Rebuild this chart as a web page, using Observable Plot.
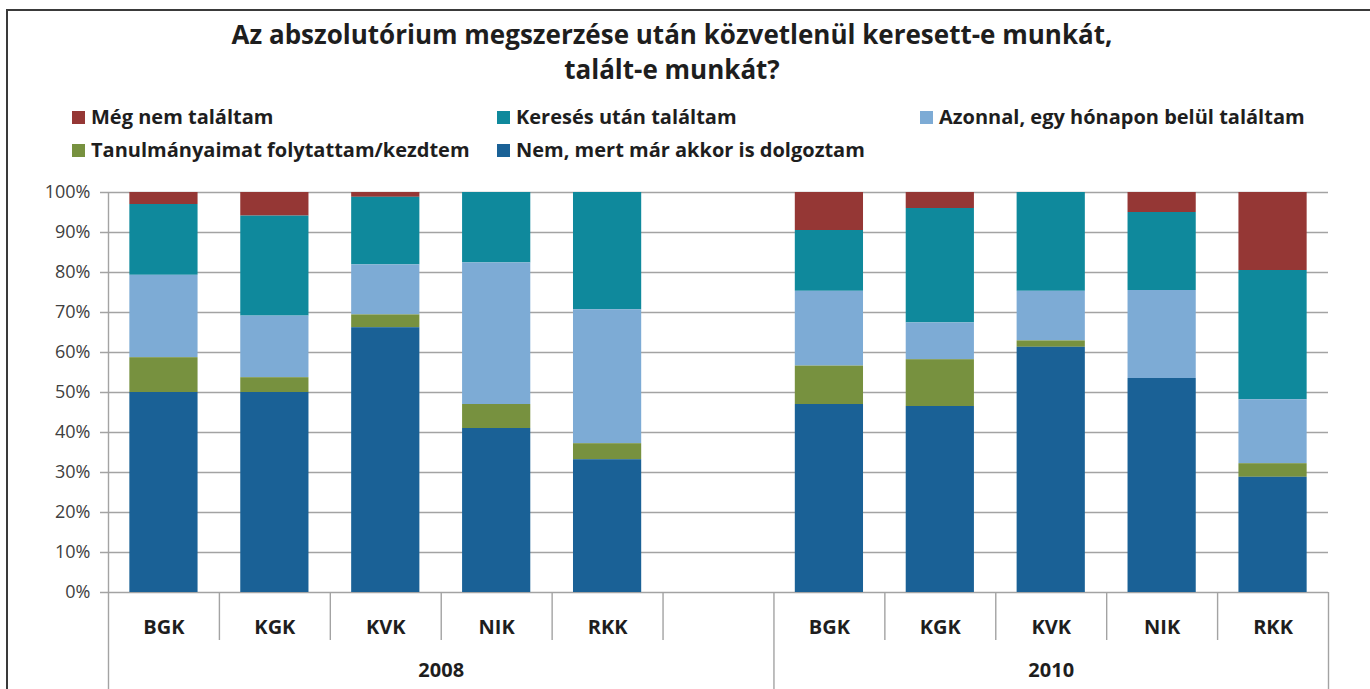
<!DOCTYPE html>
<html>
<head>
<meta charset="utf-8">
<script src="https://cdn.jsdelivr.net/npm/d3@7"></script>
<script src="https://cdn.jsdelivr.net/npm/@observablehq/plot@0.6"></script>
<style>
  html, body { margin: 0; padding: 0; background: #fff; }
  body { width: 1370px; height: 689px; position: relative; overflow: hidden; font-family: "Open Sans", "Noto Sans", sans-serif; }
  #frame { position: absolute; left: 6px; top: 9px; width: 1364px; height: 680px; border-top: 2px solid #3a3a3a; border-left: 2px solid #3a3a3a; box-sizing: border-box; }
  #title { position: absolute; left: 0; top: 17px; width: 1344px; text-align: center; font-weight: 700; font-size: 26px; line-height: 35px; color: #1e1e1e; }
  .leg { position: absolute; font-weight: 700; font-size: 20px; color: #1e1e1e; white-space: nowrap; line-height: 24px; height: 24px; display: flex; align-items: center; }
  .sw { display: inline-block; width: 13px; height: 13px; margin-right: 6px; }
  #chart { position: absolute; left: 0; top: 172px; }
</style>
</head>
<body>
<div id="frame"></div>
<div id="title">Az abszolutórium megszerzése után közvetlenül keresett-e munkát,<br>talált-e munkát?</div>
<div id="legend"></div>
<div id="chart"></div>
<script>
// ---- data ----
const years = ["2008", "2010"];
const categories = ["BGK", "KGK", "KVK", "NIK", "RKK"];
const seriesNames = [
  "Még nem találtam",
  "Keresés után találtam",
  "Azonnal, egy hónapon belül találtam",
  "Tanulmányaimat folytattam/kezdtem",
  "Nem, mert már akkor is dolgoztam"
];
const seriesColors = ["#953735", "#0f899c", "#7dabd5", "#77913f", "#1a6196"];

// values per category (BGK, KGK, KVK, NIK, RKK), percent
const megNem2008   = [3.0, 5.9, 1.2, 0.0, 0.0];
const kereses2008  = [17.7, 25.0, 16.9, 17.6, 29.3];
const azonnal2008  = [20.6, 15.4, 12.5, 35.4, 33.5];
const tanulm2008   = [8.7, 3.7, 3.2, 6.0, 4.0];
const dolgozt2008  = [50.0, 50.0, 66.2, 41.0, 33.2];

const megNem2010   = [9.5, 4.0, 0.0, 5.0, 19.5];
const kereses2010  = [15.2, 28.6, 24.7, 19.5, 32.3];
const azonnal2010  = [18.7, 9.2, 12.4, 22.0, 16.0];
const tanulm2010   = [9.6, 11.7, 1.6, 0.0, 3.4];
const dolgozt2010  = [47.0, 46.5, 61.3, 53.5, 28.8];

const yTicks = [0, 10, 20, 30, 40, 50, 60, 70, 80, 90, 100];

// ---- build table ----
const valuesByYear = {
  "2008": [megNem2008, kereses2008, azonnal2008, tanulm2008, dolgozt2008],
  "2010": [megNem2010, kereses2010, azonnal2010, tanulm2010, dolgozt2010]
};
const keyOf = (yr, c) => yr + " " + c;
const GAP = "gap";
const slots = [...categories.map(c => keyOf(years[0], c)), GAP, ...categories.map(c => keyOf(years[1], c))];
const rows = [];
for (const yr of years) {
  categories.forEach((c, ci) => {
    seriesNames.forEach((s, si) => {
      rows.push({key: keyOf(yr, c), year: yr, cat: c, series: s, value: valuesByYear[yr][si][ci]});
    });
  });
}
const labelRows = years.flatMap(yr => categories.map(c => ({key: keyOf(yr, c), cat: c})));
const stackOrder = [...seriesNames].reverse(); // bottom to top

// ---- legend (HTML) ----
const legendPos = [[72, 105], [497, 105], [920, 105], [72, 138], [497, 138]];
const legend = document.getElementById("legend");
seriesNames.forEach((s, i) => {
  const d = document.createElement("div");
  d.className = "leg";
  d.style.left = legendPos[i][0] + "px";
  d.style.top = legendPos[i][1] + "px";
  d.innerHTML = `<span class="sw" style="background:${seriesColors[i]}"></span>${s}`;
  legend.appendChild(d);
});

// ---- chart ----
const W = 1370, H = 517, ML = 108, MR = 42, MT = 20, MB = 0;
const step = (W - ML - MR) / slots.length;
const yMin = -24.25;           // extends below 0% for the category axis area
const catY = -8.75, yearY = -19.5, sepY = -12;
const axisColor = "#a3a3a3";

const shortSeps = slots.filter((k, i) => i > 0 && i !== 6);
const longSeps = [slots[6]];

const chart = Plot.plot({
  width: W,
  height: H,
  marginLeft: ML,
  marginRight: MR,
  marginTop: MT,
  marginBottom: MB,
  style: {fontFamily: "'Open Sans', sans-serif", fontSize: "18px", color: "#404040", background: "transparent"},
  x: {domain: slots, paddingInner: 0.385, paddingOuter: 0.1925, round: false, axis: null},
  y: {domain: [yMin, 100], ticks: yTicks, tickFormat: d => d + "%", tickSize: 0, tickPadding: 18, label: null},
  color: {domain: seriesNames, range: seriesColors},
  marks: [
    Plot.ruleY(yTicks, {stroke: axisColor, strokeWidth: 1.4, insetLeft: -8}),
    Plot.barY(rows, {x: "key", y: "value", fill: "series", order: stackOrder}),
    Plot.ruleX([slots[0]], {dx: -step / 2, y1: yMin, y2: 100, stroke: axisColor, strokeWidth: 1.4}),
    Plot.ruleX(shortSeps, {dx: -step / 2, y1: 0, y2: sepY, stroke: axisColor, strokeWidth: 1.4}),
    Plot.ruleX(longSeps, {dx: -step / 2, y1: 0, y2: yMin, stroke: axisColor, strokeWidth: 1.4}),
    Plot.ruleX([slots[slots.length - 1]], {dx: step / 2, y1: 0, y2: yMin, stroke: axisColor, strokeWidth: 1.4}),
    Plot.text(labelRows, {x: "key", y: catY, text: "cat", fontWeight: "bold", fontSize: 20, fill: "#1e1e1e"}),
    Plot.text([years[0]], {x: () => slots[2], y: yearY, text: d => d, dx: step / 2, fontWeight: "bold", fontSize: 20, fill: "#1e1e1e"}),
    Plot.text([years[1]], {x: () => slots[8], y: yearY, text: d => d, fontWeight: "bold", fontSize: 20, fill: "#1e1e1e"})
  ]
});
document.getElementById("chart").appendChild(chart);
</script>
</body>
</html>
